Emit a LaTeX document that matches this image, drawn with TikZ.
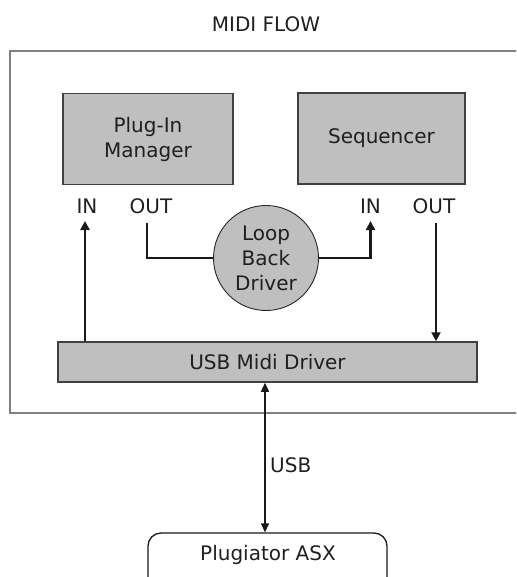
\documentclass[tikz,border=0pt]{standalone}
\usepackage{fontspec}
\setmainfont{DejaVu Sans}
\usetikzlibrary{arrows.meta}
\begin{document}
\begin{tikzpicture}[x=1pt,y=-1pt,
  every node/.style={font=\fontsize{20}{25}\selectfont, text=black!88, inner sep=0pt},
  graybox/.style={draw=black!75, line width=1.8pt, fill=black!25, align=center},
  thickline/.style={line width=2.6pt, black!90},
  arr/.style={thickline, -{Triangle[width=9pt,length=9pt]}},
  thinarr/.style={line width=1.2pt, black!90, {Triangle[width=8pt,length=9pt]}-{Triangle[width=8pt,length=9pt]}}
]
\useasboundingbox (0,0) rectangle (516,577);
\clip (0,0) rectangle (516,577);
% outer frame
\draw[line width=2pt, black!50] (530,51) -- (10,51) -- (10,413) -- (530,413);
\node (title) at (266,24) {MIDI FLOW};
\node[graybox, minimum width=170pt, minimum height=91pt] (pim) at (148,139) {Plug-In\\Manager};
\node[graybox, minimum width=167pt, minimum height=91pt] (seq) at (381.5,138.5) {Sequencer};
\node[graybox, line width=1.5pt, minimum width=419pt, minimum height=40pt] (usb) at (267.5,362) {USB Midi Driver};
\node[circle, draw=black!85, line width=0.9pt, fill=black!25, minimum size=105pt, align=center] (loop) at (266,258) {Loop\\Back\\Driver};
\node (inL) at (87,206) {IN};
\node (outL) at (151,206) {OUT};
\node (inR) at (370.5,206) {IN};
\node (outR) at (434,206) {OUT};
% connectors
\coordinate (inLtip) at (85,221);
\coordinate (outLtop) at (147,223);
\coordinate (inRtip) at (370.5,221);
\coordinate (outRtop) at (436,223);
\draw[arr] (usb.north -| inLtip) -- (inLtip);
\draw[thickline] (outLtop) |- (loop.west);
\draw[arr] (loop.east) -| (inRtip);
\draw[arr] (outRtop) -- (usb.north -| outRtop);
% Plugiator
\node[draw=black!90, line width=1.3pt, rounded corners=13pt, minimum width=239pt, minimum height=70pt] (asx) at (267.5,568) {};
\node (asxlabel) at (268,555) {Plugiator ASX};
\draw[thinarr] (usb.south -| 265,0) -- (asx.north -| 265,0);
\node[anchor=west] (usblabel) at (270,465) {USB};
\end{tikzpicture}
\end{document}
